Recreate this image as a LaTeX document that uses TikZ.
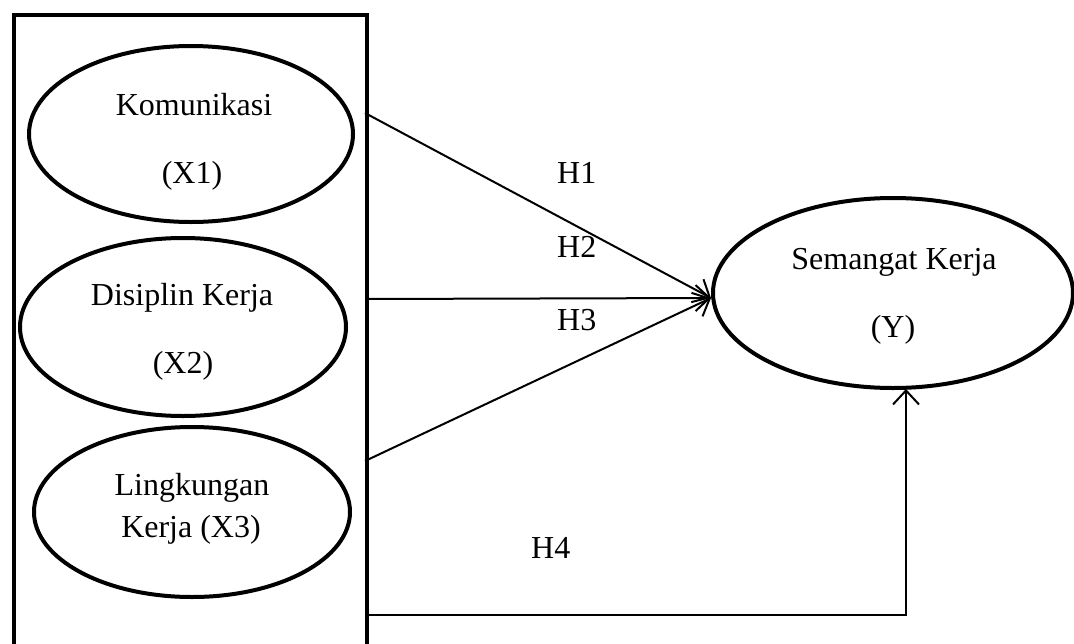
\documentclass[tikz,border=0pt]{standalone}
\usepackage{fontspec}
\setmainfont{Liberation Serif}
\usetikzlibrary{shapes.geometric,arrows.meta}
\begin{document}
\begin{tikzpicture}[x=1pt,y=-1pt,
  var/.style={draw,ellipse,line width=4pt,inner sep=0pt},
  lbl/.style={anchor=base,inner sep=0pt,font=\fontsize{32}{38}\selectfont},
  hlbl/.style={anchor=base west,inner sep=0pt,font=\fontsize{32}{38}\selectfont},
  link/.style={line width=2pt,-{Straight Barb[length=14pt,width=26pt,line width=2pt]}}]
\useasboundingbox (0,0) rectangle (1074,643);
\begin{scope}
\clip (0,0) rectangle (1074,643);
% group frame around the independent variables
\node[draw,line width=4pt,inner sep=0pt,minimum width=353pt,minimum height=660pt,anchor=north west] (box) at (12,13) {};
\end{scope}
% independent variables
\node[var,minimum width=324pt,minimum height=176pt] (x1) at (191,134) {};
\node[var,minimum width=326pt,minimum height=178pt] (x2) at (183,327) {};
\node[var,minimum width=316pt,minimum height=170pt] (x3) at (192,512) {};
% dependent variable
\node[var,minimum width=360pt,minimum height=190pt] (y) at (893,293) {};
% texts
\node[lbl] (t1a) at (194,115) {Komunikasi};
\node[lbl] (t1b) at (192,183) {(X1)};
\node[lbl] (t2a) at (182,305) {Disiplin Kerja};
\node[lbl] (t2b) at (183,373) {(X2)};
\node[lbl] (t3a) at (192,495) {Lingkungan};
\node[lbl] (t3b) at (191,537) {Kerja (X3)};
\node[lbl] (tya) at (894,269) {Semangat Kerja};
\node[lbl] (tyb) at (893,337) {(Y)};
% connector end points
\coordinate (s1) at (365,113);
\coordinate (s2) at (365,299);
\coordinate (s3) at (365,461);
\coordinate (s4) at (365,615);
\coordinate (tip) at (711,298);
\coordinate (bend) at (906,615);
\coordinate (ybot) at (906,389);
% hypotheses
\draw[link] (s1) -- (tip);
\draw[link] (s2) -- (tip);
\draw[link] (s3) -- (tip);
\draw[link] (s4) -- (bend) -- (ybot);
\node[hlbl] (h1) at (557,183) {H1};
\node[hlbl] (h2) at (557,257) {H2};
\node[hlbl] (h3) at (557,330) {H3};
\node[hlbl] (h4) at (531,558) {H4};
\end{tikzpicture}
\end{document}
